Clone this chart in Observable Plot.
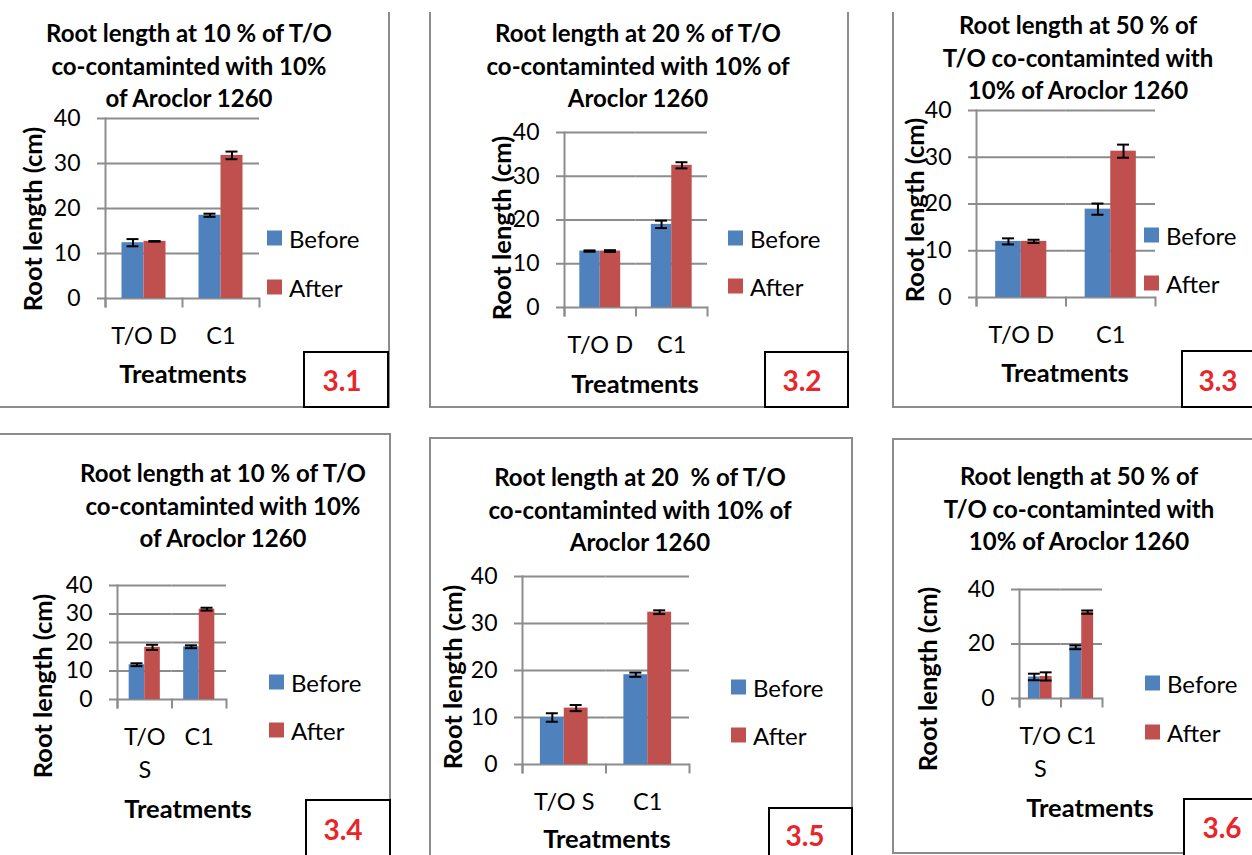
<!DOCTYPE html>
<html><head><meta charset="utf-8">
<script src="https://cdn.jsdelivr.net/npm/d3@7"></script>
<script src="https://cdn.jsdelivr.net/npm/@observablehq/plot@0.6"></script>
<style>
body{margin:0;background:#fff;}
#root{position:relative;width:1252px;height:855px;overflow:hidden;font-family:Lato,"Open Sans",sans-serif;color:#000;}
.t{position:absolute;white-space:pre;transform:translate(-50%,-50%);}
.title{position:absolute;white-space:pre;transform:translateX(-50%);text-align:center;font-weight:bold;font-size:24px;line-height:32.5px;}
.ytitle{position:absolute;white-space:pre;transform:translate(-50%,-50%) rotate(-90deg);font-weight:bold;font-size:25.5px;}
.xtitle{font-weight:bold;font-size:25.5px;}
.leg{position:absolute;display:flex;align-items:center;transform:translateY(-50%);font-size:24px;}
.sw{width:15px;height:15px;margin-right:7px;}
.line{position:absolute;background:#8c8c8c;}
.box{position:absolute;border:2px solid #000;background:#fff;box-sizing:border-box;}
.lab{color:#e8262a;font-weight:bold;font-size:28px;}
</style></head><body><div id="root"></div>
<script>
// ---------------- data ----------------
const series = ["Before", "After"];
const seriesColors = ["#4F81BD", "#C0504D"];
const catsD = ["T/O D", "C1"];
const catsS = ["T/O S", "C1"];
const yTicksFine = [0, 10, 20, 30, 40];
const yTicksCoarse = [0, 20, 40];

const before31 = [12.4, 18.5], beforeErr31 = [0.8, 0.35], after31 = [12.7, 31.8], afterErr31 = [0.05, 0.85];
const before32 = [12.9, 19.0], beforeErr32 = [0.15, 0.85], after32 = [12.9, 32.5], afterErr32 = [0.2, 0.7];
const before33 = [12.0, 18.9], beforeErr33 = [0.65, 1.2], after33 = [12.0, 31.3], afterErr33 = [0.35, 1.4];
const before34 = [12.2, 18.5], beforeErr34 = [0.5, 0.5], after34 = [18.3, 31.7], afterErr34 = [0.9, 0.5];
const before35 = [10.0, 19.1], beforeErr35 = [0.9, 0.45], after35 = [12.0, 32.4], afterErr35 = [0.65, 0.4];
const before36 = [7.9, 18.8], beforeErr36 = [1.2, 0.7], after36 = [8.1, 31.7], afterErr36 = [1.5, 0.6];

const titles = [
  ["Root length at 10 % of T/O", "co-contaminted with 10%", "of Aroclor 1260"],
  ["Root length at 20 % of T/O", "co-contaminted with 10% of", "Aroclor 1260"],
  ["Root length at 50 % of", "T/O co-contaminted with", "10% of Aroclor 1260"],
  ["Root length at 10 % of T/O", "co-contaminted with 10%", "of Aroclor 1260"],
  ["Root length at 20  % of T/O", "co-contaminted with 10% of", "Aroclor 1260"],
  ["Root length at 50 % of", "T/O co-contaminted with", "10% of Aroclor 1260"]
];
const panelLabels = ["3.1", "3.2", "3.3", "3.4", "3.5", "3.6"];
const yAxisTitle = "Root length (cm)";
const xAxisTitle = "Treatments";

// ---------------- layout (pixels) ----------------
const layouts = [
  {plot:[105,259,118,298], title:[189,33], yt:[32,219], xt:[183,373], leg:[267,238,287], box:[303,351,389,408], lab:[342,380], wrap:false,
   lines:[[388,12,2,396],[0,406,389,2]]},
  {plot:[564,707,132,307], title:[638,33], yt:[501,228], xt:[635,383], leg:[728,238,286], box:[764,351,849,408], lab:[802,380], wrap:false,
   lines:[[429,12,2,396],[847,12,2,396],[429,406,420,2]]},
  {plot:[976,1155,110,297], title:[1078,25], yt:[914,210], xt:[1065,372], leg:[1144,235,283], box:[1181,350,1262,408], lab:[1218,380], wrap:false,
   lines:[[892,12,2,396],[892,406,360,2]]},
  {plot:[117,226,585,699], title:[223,473], yt:[42,686], xt:[188,808], leg:[269,682,730], box:[305,799,391,870], lab:[343,829], wrap:true,
   lines:[[0,433,391,2],[389,433,2,422]]},
  {plot:[522,689,576,764], title:[640,477], yt:[452,677], xt:[607,838], leg:[731,687,735], box:[768,807,853,870], lab:[805,835], wrap:false,
   lines:[[429,437,2,418],[429,437,424,2],[851,437,2,418]]},
  {plot:[1019,1102,589,698], title:[1079,476], yt:[927,679], xt:[1090,807], leg:[1145,683,732], box:[1183,798,1262,870], lab:[1222,827], wrap:true,
   lines:[[892,438,2,416],[892,438,360,2],[892,852,360,2]]}
];

const panelData = [
  {cats: catsD, before: before31, beforeErr: beforeErr31, after: after31, afterErr: afterErr31, ticks: yTicksFine},
  {cats: catsD, before: before32, beforeErr: beforeErr32, after: after32, afterErr: afterErr32, ticks: yTicksFine},
  {cats: catsD, before: before33, beforeErr: beforeErr33, after: after33, afterErr: afterErr33, ticks: yTicksFine},
  {cats: catsS, before: before34, beforeErr: beforeErr34, after: after34, afterErr: afterErr34, ticks: yTicksFine},
  {cats: catsS, before: before35, beforeErr: beforeErr35, after: after35, afterErr: afterErr35, ticks: yTicksFine},
  {cats: catsS, before: before36, beforeErr: beforeErr36, after: after36, afterErr: afterErr36, ticks: yTicksCoarse}
];

const FONT = "Lato, 'Open Sans', sans-serif";
const GRID = "#8c8c8c";
const root = document.getElementById("root");

function el(cls, html, style) {
  const d = document.createElement("div");
  d.className = cls;
  if (html != null) d.textContent = html;
  Object.assign(d.style, style || {});
  root.appendChild(d);
  return d;
}

function drawPanel(k) {
  const D = panelData[k], L = layouts[k];
  const rows = [];
  D.cats.forEach((c, i) => {
    rows.push({cat: c, series: series[0], value: D.before[i], err: D.beforeErr[i]});
    rows.push({cat: c, series: series[1], value: D.after[i], err: D.afterErr[i]});
  });
  const [x0, x1, y0, y1] = L.plot;
  const ML = 70, MR = 12, MT = 16, MB = 90;
  const W = x1 - x0, H = y1 - y0;
  const step = W / D.cats.length / 3.5;
  const capInset = Math.max(0, (step - 12) / 2);
  const lo = d => d.value - d.err, hi = d => d.value + d.err;
  const svg = Plot.plot({
    width: W + ML + MR,
    height: H + MT + MB,
    marginLeft: ML, marginRight: MR, marginTop: MT, marginBottom: MB,
    style: {fontFamily: FONT, fontSize: "23px", color: "#000", background: "none", overflow: "visible"},
    fx: {domain: D.cats, padding: 0, round: false, label: null},
    x: {domain: series, paddingInner: 0, paddingOuter: 0.75, round: false, axis: null},
    y: {domain: [0, 40], label: null},
    color: {domain: series, range: seriesColors},
    marks: [
      Plot.gridY(D.ticks, {stroke: GRID, strokeOpacity: 1, strokeWidth: 2}),
      Plot.axisY(D.ticks, {tickSize: 8, tickPadding: 17, stroke: GRID, strokeWidth: 2, label: null, fontSize: 23}),
      Plot.frame({anchor: "left", facetAnchor: "left", stroke: GRID, strokeWidth: 2, insetBottom: -8}),
      Plot.frame({anchor: "left", stroke: GRID, strokeWidth: 2, insetTop: H, insetBottom: -8}),
      Plot.frame({anchor: "right", facetAnchor: "right", stroke: GRID, strokeWidth: 2, insetTop: H, insetBottom: -8}),
      Plot.barY(rows, {fx: "cat", x: "series", y: "value", fill: "series"}),
      Plot.ruleX(rows, {fx: "cat", x: "series", y1: lo, y2: hi, stroke: "#000", strokeWidth: 2}),
      Plot.tickY(rows, {fx: "cat", x: "series", y: hi, stroke: "#000", strokeWidth: 2, insetLeft: capInset, insetRight: capInset}),
      Plot.tickY(rows, {fx: "cat", x: "series", y: lo, stroke: "#000", strokeWidth: 2, insetLeft: capInset, insetRight: capInset}),
      Plot.axisFx({anchor: "bottom", tickSize: 0, tickPadding: 22, label: null, fontSize: 23.5, lineHeight: 1.4,
        tickFormat: d => L.wrap ? d.replace(" ", "\n") : d})
    ]
  });
  svg.style.position = "absolute";
  svg.style.left = (x0 - ML) + "px";
  svg.style.top = (y0 - MT) + "px";
  root.appendChild(svg);

  // panel frame lines
  L.lines.forEach(([x, y, w, h]) => el("line", null, {left: x + "px", top: y + "px", width: w + "px", height: h + "px"}));
  // title
  el("title", titles[k].join("\n"), {left: L.title[0] + "px", top: (L.title[1] - 16) + "px"});
  // axis titles
  el("ytitle", yAxisTitle, {left: L.yt[0] + "px", top: L.yt[1] + "px"});
  el("t xtitle", xAxisTitle, {left: L.xt[0] + "px", top: L.xt[1] + "px"});
  // legend
  series.forEach((s, i) => {
    const g = el("leg", null, {left: L.leg[0] + "px", top: L.leg[1 + i] + "px"});
    const sw = document.createElement("div");
    sw.className = "sw"; sw.style.background = seriesColors[i];
    const tx = document.createElement("span"); tx.textContent = s;
    g.appendChild(sw); g.appendChild(tx);
  });
  // label box
  const [bx0, by0, bx1, by1] = L.box;
  el("box", null, {left: bx0 + "px", top: by0 + "px", width: (bx1 - bx0) + "px", height: (by1 - by0) + "px"});
  el("t lab", panelLabels[k], {left: L.lab[0] + "px", top: L.lab[1] + "px"});
}

for (let k = 0; k < 6; k++) drawPanel(k);
</script></body></html>
